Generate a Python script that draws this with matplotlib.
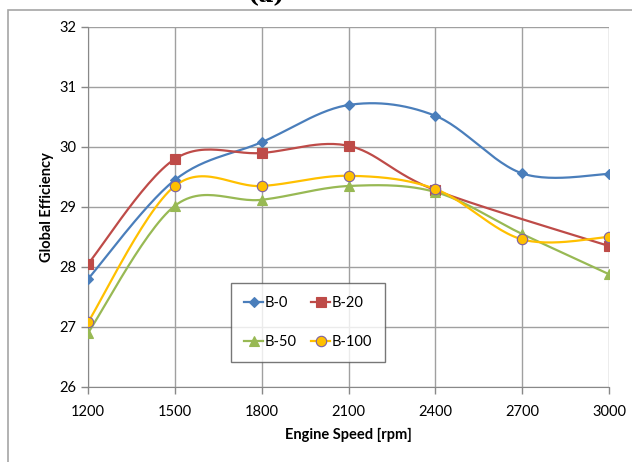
import numpy as np
import matplotlib
matplotlib.use("Agg")
import matplotlib.pyplot as plt

plt.rcParams['font.family'] = ['Lato', 'DejaVu Sans']

# 데이터
speed = [1200, 1500, 1800, 2100, 2400, 2700, 3000]
b0 = [27.8, 29.45, 30.08, 30.7, 30.52, 29.56, 29.55]
b20 = [28.05, 29.8, 29.9, 30.02, 29.28, np.nan, 28.35]  # 2700 값 없음
b50 = [26.9, 29.02, 29.12, 29.35, 29.25, 28.55, 27.88]
b100 = [27.08, 29.35, 29.35, 29.52, 29.3, 28.46, 28.5]
labels = ['B-0', 'B-20', 'B-50', 'B-100']
xticks = [1200, 1500, 1800, 2100, 2400, 2700, 3000]
yticks = [26, 27, 28, 29, 30, 31, 32]


# 엑셀식 부드러운 선 (베지어, 1/6 제어점)
def smooth(xs, ys, n=30):
    xs = np.asarray(xs, float)
    ys = np.asarray(ys, float)
    ok = ~np.isnan(ys)
    xs, ys = xs[ok], ys[ok]
    p = np.column_stack([xs, ys])
    out = [p[0]]
    t = np.linspace(0, 1, n)[1:, None]
    for i in range(len(p) - 1):
        p0 = p[i - 1] if i > 0 else p[i]
        p3 = p[i + 2] if i + 2 < len(p) else p[i + 1]
        c1 = p[i] + (p[i + 1] - p0) / 6
        c2 = p[i + 1] - (p3 - p[i]) / 6
        seg = ((1 - t) ** 3 * p[i] + 3 * (1 - t) ** 2 * t * c1
               + 3 * (1 - t) * t ** 2 * c2 + t ** 3 * p[i + 1])
        out.extend(seg)
    out = np.array(out)
    return out[:, 0], out[:, 1]


fig = plt.figure(figsize=(6.32, 4.62), dpi=100)
ax = fig.add_axes([88 / 632, 1 - 387 / 462, 521 / 632, 360 / 462])

# 바깥 테두리
fig.add_artist(plt.Rectangle((8 / 632, -0.05), 1.1, 1 - 10 / 462 + 0.05,
                             transform=fig.transFigure, fill=False,
                             edgecolor='#a6a6a6', linewidth=1.2))
fig.text(266 / 632, 1 - 7 / 462, '(a)', ha='center', va='bottom',
         fontsize=17, fontweight='bold', family='DejaVu Serif')

styles = [
    dict(color='#4a7ebb', marker='D', ms=5.5, mfc='#4a7ebb', mec='#4a7ebb'),
    dict(color='#be4b48', marker='s', ms=6.8, mfc='#be4b48', mec='#be4b48'),
    dict(color='#98b954', marker='^', ms=7.5, mfc='#98b954', mec='#98b954'),
    dict(color='#ffc000', marker='o', ms=7.5, mfc='#ffc000', mec='#7d60a0'),
]

handles = []
for ys, lab, st in zip([b0, b20, b50, b100], labels, styles):
    sx, sy = smooth(speed, ys)
    ax.plot(sx, sy, color=st['color'], lw=1.6, zorder=3)
    ax.plot(speed, ys, ls='none', marker=st['marker'], ms=st['ms'],
            mfc=st['mfc'], mec=st['mec'], mew=0.8, zorder=4)
    h, = ax.plot([], [], color=st['color'], lw=1.6, marker=st['marker'],
                 ms=st['ms'], mfc=st['mfc'], mec=st['mec'], mew=0.8, label=lab)
    handles.append(h)

ax.set_xlim(1200, 3000)
ax.set_ylim(26, 32)
ax.set_xticks(xticks)
ax.set_yticks(yticks)
ax.grid(True, color='#a0a0a0', linewidth=1)
ax.set_axisbelow(True)
for s in ['top', 'right']:
    ax.spines[s].set_visible(False)
for s in ['left', 'bottom']:
    ax.spines[s].set_color('#888888')
ax.tick_params(axis='both', colors='#888888', labelcolor='black',
               labelsize=10.5, length=5, width=1)
ax.tick_params(axis='x', pad=8)

ax.set_xlabel('Engine Speed [rpm]', fontsize=10.5, fontweight='bold', labelpad=6)
ax.set_ylabel('Global Efficiency', fontsize=10.5, fontweight='bold', labelpad=4)

# 범례: 첫 줄 B-0, B-20 / 둘째 줄 B-50, B-100
order = [0, 2, 1, 3]
leg = ax.legend([handles[i] for i in order], [labels[i] for i in order],
                ncol=2, loc='upper left',
                bbox_to_anchor=(231 / 632, 1 - 283 / 462), bbox_transform=fig.transFigure,
                frameon=True, fancybox=False, fontsize=10.5, handlelength=1.3,
                handletextpad=0.1, columnspacing=1.0, labelspacing=1.7,
                borderpad=0.9, borderaxespad=0)
leg.get_frame().set_edgecolor('#555555')
leg.get_frame().set_linewidth(1.0)

fig.savefig('out.png', dpi=100)
